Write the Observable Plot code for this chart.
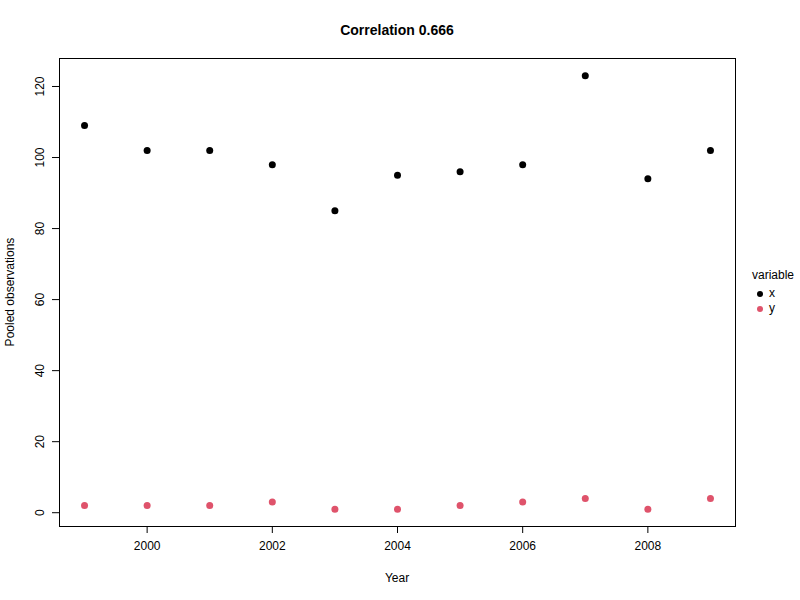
<!DOCTYPE html>
<html>
<head>
<meta charset="utf-8">
<script src="https://cdn.jsdelivr.net/npm/d3@7"></script>
<script src="https://cdn.jsdelivr.net/npm/@observablehq/plot@0.6"></script>
<style>
  body { margin: 0; background: #fff; font-family: "Liberation Sans", Arial, sans-serif; }
  #wrap { position: relative; width: 800px; height: 600px; }
  #title { position: absolute; left: 0; width: 794px; top: 22px; text-align: center; font-weight: bold; font-size: 14px; }
  #xlab { position: absolute; left: 0; width: 794px; top: 571px; text-align: center; font-size: 12px; }
  #ylab { position: absolute; left: 10px; top: 292px; font-size: 12px; transform: translate(-50%, -50%) rotate(-90deg); white-space: nowrap; }
  #legend { position: absolute; left: 752px; top: 268px; font-size: 12px; line-height: 15px; }
  #legend .head { margin-bottom: 3px; }
  #legend .item { display: flex; align-items: center; }
  #legend .dot { width: 6px; height: 6px; border-radius: 50%; margin-left: 5px; margin-right: 6px; display: inline-block; }
  svg { position: absolute; left: 0; top: 0; }
</style>
</head>
<body>
<div id="wrap">
  <div id="title">Correlation 0.666</div>
  <div id="xlab">Year</div>
  <div id="ylab">Pooled observations</div>
  <div id="legend"></div>
</div>
<script>
const years = [1999, 2000, 2001, 2002, 2003, 2004, 2005, 2006, 2007, 2008, 2009];
const xValues = [109, 102, 102, 98, 85, 95, 96, 98, 123, 94, 102];
const yValues = [2, 2, 2, 3, 1, 1, 2, 3, 4, 1, 4];
const seriesNames = ["x", "y"];
const seriesColors = ["#000000", "#DF536B"];
const xTicks = [2000, 2002, 2004, 2006, 2008];
const yTicks = [0, 20, 40, 60, 80, 100, 120];

const data = [];
years.forEach((yr, i) => {
  data.push({year: yr, value: xValues[i], variable: "x"});
  data.push({year: yr, value: yValues[i], variable: "y"});
});

const allVals = xValues.concat(yValues);
const vmin = d3.min(allVals), vmax = d3.max(allVals);
const vpad = (vmax - vmin) * 0.04;
const ypad = (d3.max(years) - d3.min(years)) * 0.04;

const chart = Plot.plot({
  width: 800,
  height: 600,
  marginLeft: 59,
  marginRight: 65,
  marginTop: 58,
  marginBottom: 74,
  style: {fontFamily: "Liberation Sans, Arial, sans-serif", fontSize: "12px", background: "transparent", color: "#000"},
  x: {domain: [d3.min(years) - ypad, d3.max(years) + ypad]},
  y: {domain: [vmin - vpad, vmax + vpad]},
  color: {domain: seriesNames, range: seriesColors},
  marks: [
    Plot.frame({stroke: "#000", strokeWidth: 1}),
    Plot.axisX({ticks: xTicks, tickFormat: d => String(d), tickSize: 7, tickPadding: 8, label: null, stroke: "#000", fill: "#000"}),
    Plot.axisY({ticks: yTicks, tickFormat: d => String(d), tickSize: 7, tickPadding: 9, tickRotate: -90, label: null, stroke: "#000", fill: "#000"}),
    Plot.dot(data, {x: "year", y: "value", fill: "variable", r: 3.5, stroke: null})
  ]
});
document.getElementById("wrap").appendChild(chart);

const legend = document.getElementById("legend");
const head = document.createElement("div");
head.className = "head";
head.textContent = "variable";
legend.appendChild(head);
seriesNames.forEach((n, i) => {
  const item = document.createElement("div");
  item.className = "item";
  const dot = document.createElement("span");
  dot.className = "dot";
  dot.style.background = seriesColors[i];
  const t = document.createElement("span");
  t.textContent = n;
  item.appendChild(dot);
  item.appendChild(t);
  legend.appendChild(item);
});
</script>
</body>
</html>
